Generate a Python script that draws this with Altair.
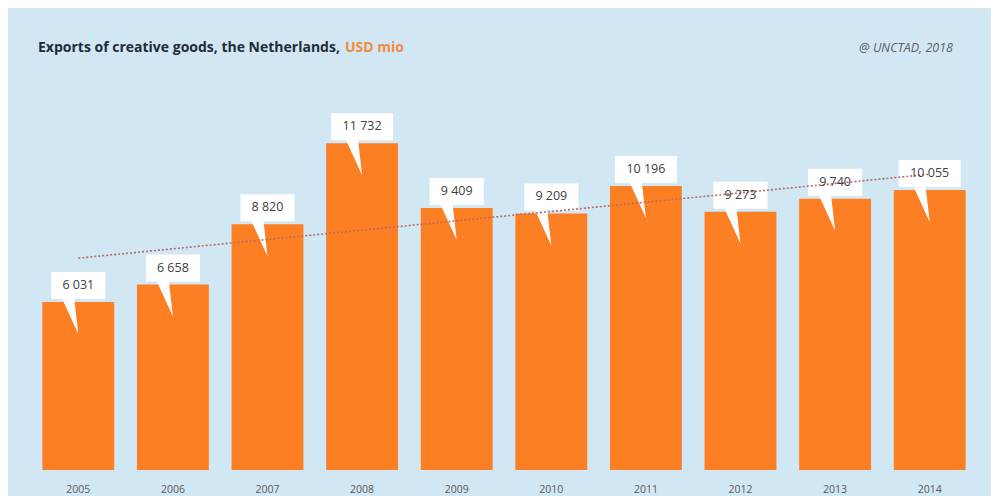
import altair as alt
import pandas as pd

years = [2005, 2006, 2007, 2008, 2009, 2010, 2011, 2012, 2013, 2014]
values = [6031, 6658, 8820, 11732, 9409, 9209, 10196, 9273, 9740, 10055]
title_main = "Exports of creative goods, the Netherlands,"
title_unit = "USD mio"
source = "@ UNCTAD, 2018"

df = pd.DataFrame({"year": years, "value": values})

W, H = 946, 390

x = alt.X(
    "year:O",
    scale=alt.Scale(paddingInner=0.24, paddingOuter=0.12),
    axis=alt.Axis(title=None, labelAngle=0, domain=False, ticks=False,
                  labelFontSize=10.5, labelColor="#595959", labelPadding=14,
                  labelFont="Open Sans"),
)
y = alt.Y("value:Q", scale=alt.Scale(domain=[0, 14000], nice=False, zero=True), axis=None)

base = alt.Chart(df)

bars = base.mark_bar(color="#fd7f23").encode(x=x, y=y)

P4 = "M-27,-30L27,-30L27,-3L-4,-3L0,32L-16,-3L-27,-3Z"
P5 = "M-31,-30L31,-30L31,-3L-4,-3L0,32L-16,-3L-31,-3Z"

call4 = base.transform_filter("datum.value < 10000").mark_point(
    shape=P4, size=4, filled=True, color="white", opacity=1, strokeWidth=0
).encode(x=x, y=y)
call5 = base.transform_filter("datum.value >= 10000").mark_point(
    shape=P5, size=4, filled=True, color="white", opacity=1, strokeWidth=0
).encode(x=x, y=y)

trend = base.transform_regression("year", "value").mark_line(
    color="#b86a64", strokeDash=[2, 2], strokeWidth=1.6
).encode(x=x, y=y)

labels = base.transform_calculate(
    label="replace(format(datum.value, ','), ',', ' ')"
).mark_text(dy=-17, fontSize=12.5, color="#404040", font="Open Sans").encode(
    x=x, y=y, text="label:N"
)

t1 = alt.Chart(pd.DataFrame({"t": [title_main]})).mark_text(
    align="left", baseline="middle", font="Open Sans", fontWeight="bold",
    fontSize=14, color="#1f2b3a"
).encode(x=alt.value(7), y=alt.value(-32), text="t:N")

t2 = alt.Chart(pd.DataFrame({"t": [title_unit]})).mark_text(
    align="left", baseline="middle", font="Open Sans", fontWeight="bold",
    fontSize=14, color="#f58a3c"
).encode(x=alt.value(314), y=alt.value(-32), text="t:N")

t3 = alt.Chart(pd.DataFrame({"t": [source]})).mark_text(
    align="right", baseline="middle", font="Open Sans", fontStyle="italic",
    fontSize=12.5, color="#606060"
).encode(x=alt.value(922), y=alt.value(-32), text="t:N")

chart = alt.layer(bars, call4, call5, trend, labels, t1, t2, t3).properties(
    width=W, height=H,
    padding={"left": 23, "top": 72, "right": 14, "bottom": 26},
    autosize=alt.AutoSizeParams(type="none"),
    background="#d2e7f4",
).configure_view(stroke=None)

chart.save("out.html", embed_options={"renderer": "svg", "actions": False})
